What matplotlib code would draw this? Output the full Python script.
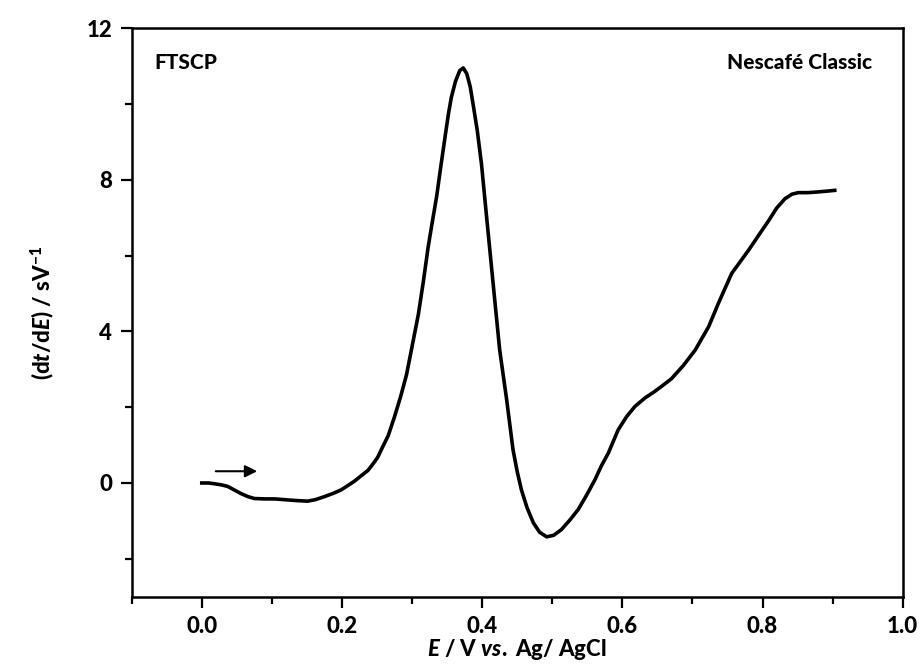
import matplotlib
matplotlib.use("Agg")
import matplotlib.pyplot as plt
from matplotlib.ticker import MultipleLocator

# ================================================================================
# FTSCP derivative curve, Nescafe Classic
potential_v=[0.000,0.010,0.018,0.028,0.037,0.046,0.056,0.066,0.075,0.090,
             0.104,0.118,0.132,0.151,0.162,0.175,0.188,0.199,0.209,0.218,
             0.228,0.237,0.245,0.251,0.258,0.266,0.275,0.284,0.292,0.300,
             0.309,0.316,0.323,0.329,0.335,0.341,0.347,0.352,0.356,0.362,
             0.368,0.373,0.378,0.383,0.387,0.393,0.399,0.408,0.418,0.425,
             0.435,0.444,0.450,0.456,0.464,0.473,0.482,0.492,0.502,0.513,
             0.525,0.537,0.549,0.561,0.570,0.580,0.594,0.606,0.618,0.632,
             0.645,0.656,0.670,0.687,0.704,0.723,0.737,0.756,0.780,0.795,
             0.809,0.820,0.832,0.842,0.851,0.865,0.880,0.892,0.903]
dtdE=[0.00,0.00,-0.02,-0.05,-0.09,-0.18,-0.28,-0.36,-0.41,-0.42,
      -0.42,-0.44,-0.46,-0.48,-0.44,-0.36,-0.27,-0.18,-0.06,0.05,
      0.20,0.33,0.52,0.68,0.95,1.25,1.75,2.30,2.85,3.60,
      4.45,5.30,6.23,6.90,7.55,8.35,9.12,9.75,10.17,10.60,
      10.88,10.95,10.80,10.45,10.00,9.30,8.42,6.70,4.82,3.51,
      2.19,0.88,0.30,-0.18,-0.65,-1.05,-1.30,-1.42,-1.38,-1.23,
      -0.98,-0.70,-0.32,0.09,0.45,0.79,1.40,1.75,2.02,2.24,
      2.40,2.55,2.75,3.10,3.51,4.12,4.74,5.53,6.14,6.55,
      6.93,7.25,7.50,7.62,7.66,7.66,7.68,7.70,7.72]

# scan direction arrow (start, end)
arrow_x=[0.016,0.083]
arrow_y=0.31

# ================================================================================
W='black'
plt.rcParams['font.family']=['Lato','DejaVu Sans']
plt.rcParams['font.weight']=W
plt.rcParams['mathtext.fontset']='custom'
plt.rcParams['mathtext.rm']='Lato:black'
plt.rcParams['mathtext.it']='Lato:italic:black'
plt.rcParams['mathtext.bf']='Lato:black'

fig=plt.figure(figsize=(9.24,6.7),dpi=100)
ax=fig.add_axes([0.1425,0.1094,0.8345,0.8486])

ax.plot(potential_v,dtdE,color='black',linewidth=2.6,solid_joinstyle='round')

ax.annotate('',xy=(arrow_x[1],arrow_y),xytext=(arrow_x[0],arrow_y),
            arrowprops=dict(arrowstyle='-|>',color='black',lw=1.5,mutation_scale=18))

ax.set_xlim(-0.1,1.0)
ax.set_ylim(-3,12)
ax.xaxis.set_major_locator(MultipleLocator(0.2))
ax.xaxis.set_minor_locator(MultipleLocator(0.1))
ax.yaxis.set_major_locator(MultipleLocator(4))
ax.yaxis.set_minor_locator(MultipleLocator(2))
ax.set_xticks([0.0,0.2,0.4,0.6,0.8,1.0])
ax.set_xticklabels(['0.0','0.2','0.4','0.6','0.8','1.0'],fontweight=W)
ax.set_yticks([0,4,8,12])
ax.set_yticklabels(['0','4','8','12'],fontweight=W)

ax.tick_params(which='major',direction='out',length=8,width=1.6,labelsize=16,pad=6)
ax.tick_params(which='minor',direction='out',length=5,width=1.6)
for s in ax.spines.values():
  s.set_linewidth(1.8)

ax.set_xlabel(r'$\it{E}$ / V $\it{vs.}$ Ag/ AgCl',fontsize=16,fontweight=W,labelpad=0)
ax.set_ylabel(r'(d$\it{t}$/d$\it{E}$) / sV$^{-1}$',fontsize=16,fontweight=W,labelpad=22)

ax.text(0.03,0.94,'FTSCP',transform=ax.transAxes,fontsize=15,fontweight=W,va='center',ha='left')
ax.text(0.96,0.94,'Nescafé Classic',transform=ax.transAxes,fontsize=15,fontweight=W,va='center',ha='right')

plt.savefig('out.png',dpi=100)
